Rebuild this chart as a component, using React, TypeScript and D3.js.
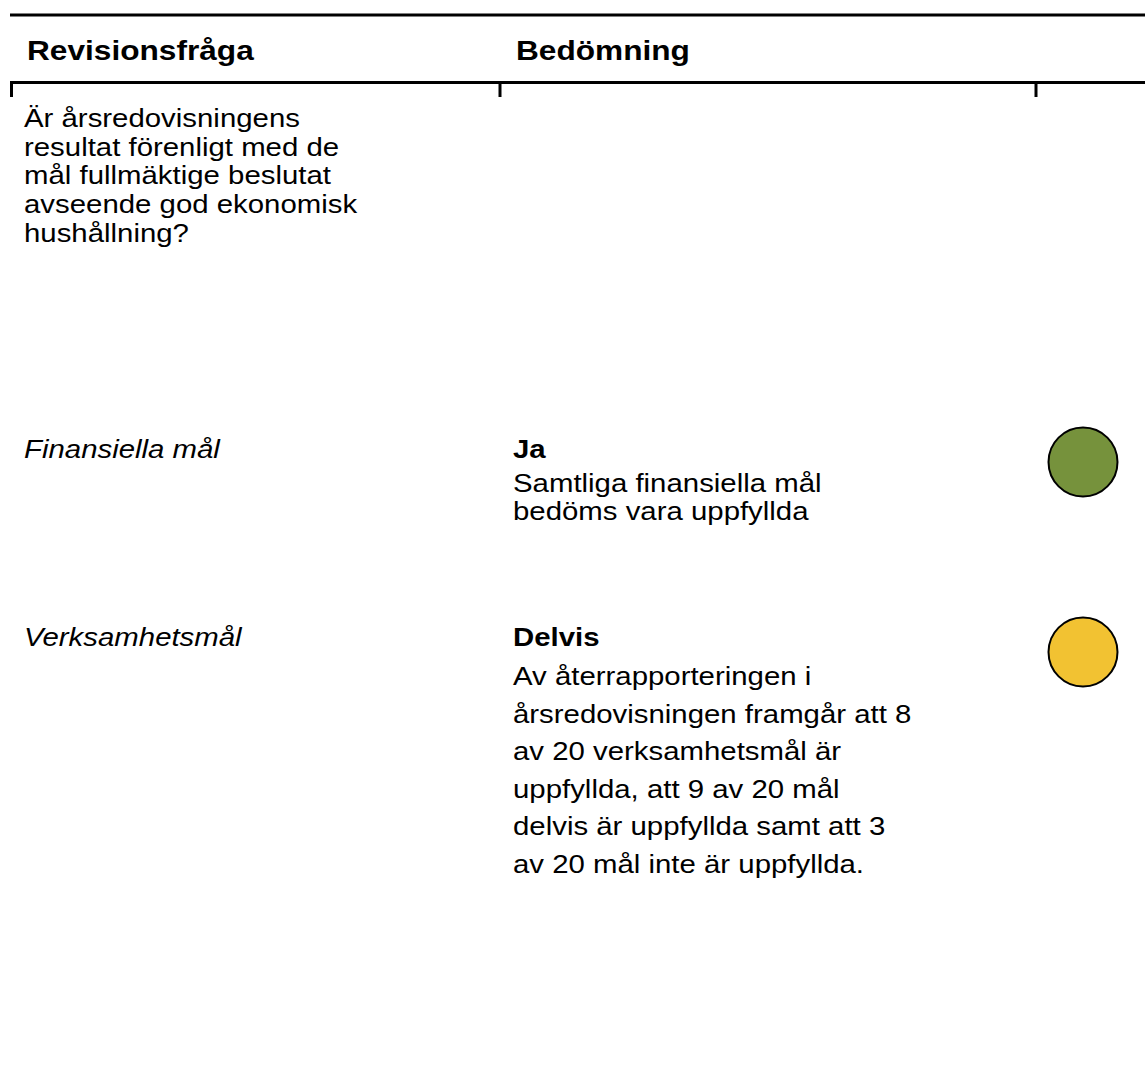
import { useEffect, useRef } from 'react';
import * as d3 from 'd3';

const COLUMNS = ['Revisionsfråga', 'Bedömning', 'Status'];
const HEADER_LABELS = ['Revisionsfråga', 'Bedömning'];

const QUESTION_LINES = [
  'Är årsredovisningens',
  'resultat förenligt med de',
  'mål fullmäktige beslutat',
  'avseende god ekonomisk',
  'hushållning?',
];

const ROW_LABELS = ['Finansiella mål', 'Verksamhetsmål'];
const VERDICTS = ['Ja', 'Delvis'];
const DESCRIPTIONS = [
  ['Samtliga finansiella mål', 'bedöms vara uppfyllda'],
  [
    'Av återrapporteringen i',
    'årsredovisningen framgår att 8',
    'av 20 verksamhetsmål är',
    'uppfyllda, att 9 av 20 mål',
    'delvis är uppfyllda samt att 3',
    'av 20 mål inte är uppfyllda.',
  ],
];
const STATUS = ['uppfyllt', 'delvis'];

const FONT = "'Liberation Sans', Arial, Helvetica, sans-serif";
// the source text is set a little wider than plain Arial
const SX = 1.13;

export default function App() {
  const svgRef = useRef<SVGSVGElement>(null);

  useEffect(() => {
    const el = svgRef.current;
    if (!el) return;
    const svg = d3.select(el);
    svg.selectAll('*').remove();

    const W = 1145;
    const H = 1072;
    svg.attr('width', W).attr('height', H);

    // column anchors
    const x = d3.scaleOrdinal<string, number>().domain(COLUMNS).range([24, 513, 1083]);
    // row baselines
    const y = d3.scaleOrdinal<string, number>().domain(ROW_LABELS).range([458, 646]);
    const lead = d3.scaleOrdinal<string, number>().domain(ROW_LABELS).range([28.5, 37.6]);
    const firstGap = d3.scaleOrdinal<string, number>().domain(ROW_LABELS).range([34, 39]);
    const statusColor = d3.scaleOrdinal<string, string>().domain(STATUS).range(['#76923C', '#F2C232']);

    // writes a block of lines, stretched horizontally around its left edge
    const block = (x0: number, lines: string[], y0: number, step: number, size: number, weight = 400, style = 'normal') => {
      const t = svg.append('text')
        .attr('transform', `translate(${x0},0) scale(${SX},1)`)
        .attr('font-family', FONT)
        .attr('font-size', size)
        .attr('font-weight', weight)
        .attr('font-style', style)
        .attr('fill', '#000');
      lines.forEach((line, i) => {
        t.append('tspan').attr('x', 0).attr('y', y0 + i * step).text(line);
      });
    };

    // header rules
    svg.append('line').attr('x1', 10).attr('x2', W).attr('y1', 15).attr('y2', 15)
      .attr('stroke', '#000').attr('stroke-width', 3);
    svg.append('line').attr('x1', 10).attr('x2', W).attr('y1', 82.5).attr('y2', 82.5)
      .attr('stroke', '#000').attr('stroke-width', 3);

    // small column ticks under the header rule
    [11.5, 500, 1036].forEach((tx) => {
      svg.append('line').attr('x1', tx).attr('x2', tx).attr('y1', 81).attr('y2', 97)
        .attr('stroke', '#000').attr('stroke-width', 3);
    });

    HEADER_LABELS.forEach((h) => block(x(h) + 3, [h], 60, 0, 28, 700));

    block(x('Revisionsfråga'), QUESTION_LINES, 127, 28.7, 26);

    ROW_LABELS.forEach((label, i) => {
      const by = y(label);
      block(x('Revisionsfråga'), [label], by, 0, 26, 400, 'italic');
      block(x('Bedömning'), [VERDICTS[i]], by, 0, 26, 700);
      block(x('Bedömning'), DESCRIPTIONS[i], by + firstGap(label), lead(label), 26);

      svg.append('circle')
        .attr('cx', x('Status'))
        .attr('cy', by + 4 + i * 2)
        .attr('r', 34.5)
        .attr('fill', statusColor(STATUS[i]))
        .attr('stroke', '#000')
        .attr('stroke-width', 2);
    });
  }, []);

  return (
    <svg
      ref={svgRef}
      style={{ position: 'absolute', left: 0, top: 0, display: 'block', background: '#fff' }}
    />
  );
}
